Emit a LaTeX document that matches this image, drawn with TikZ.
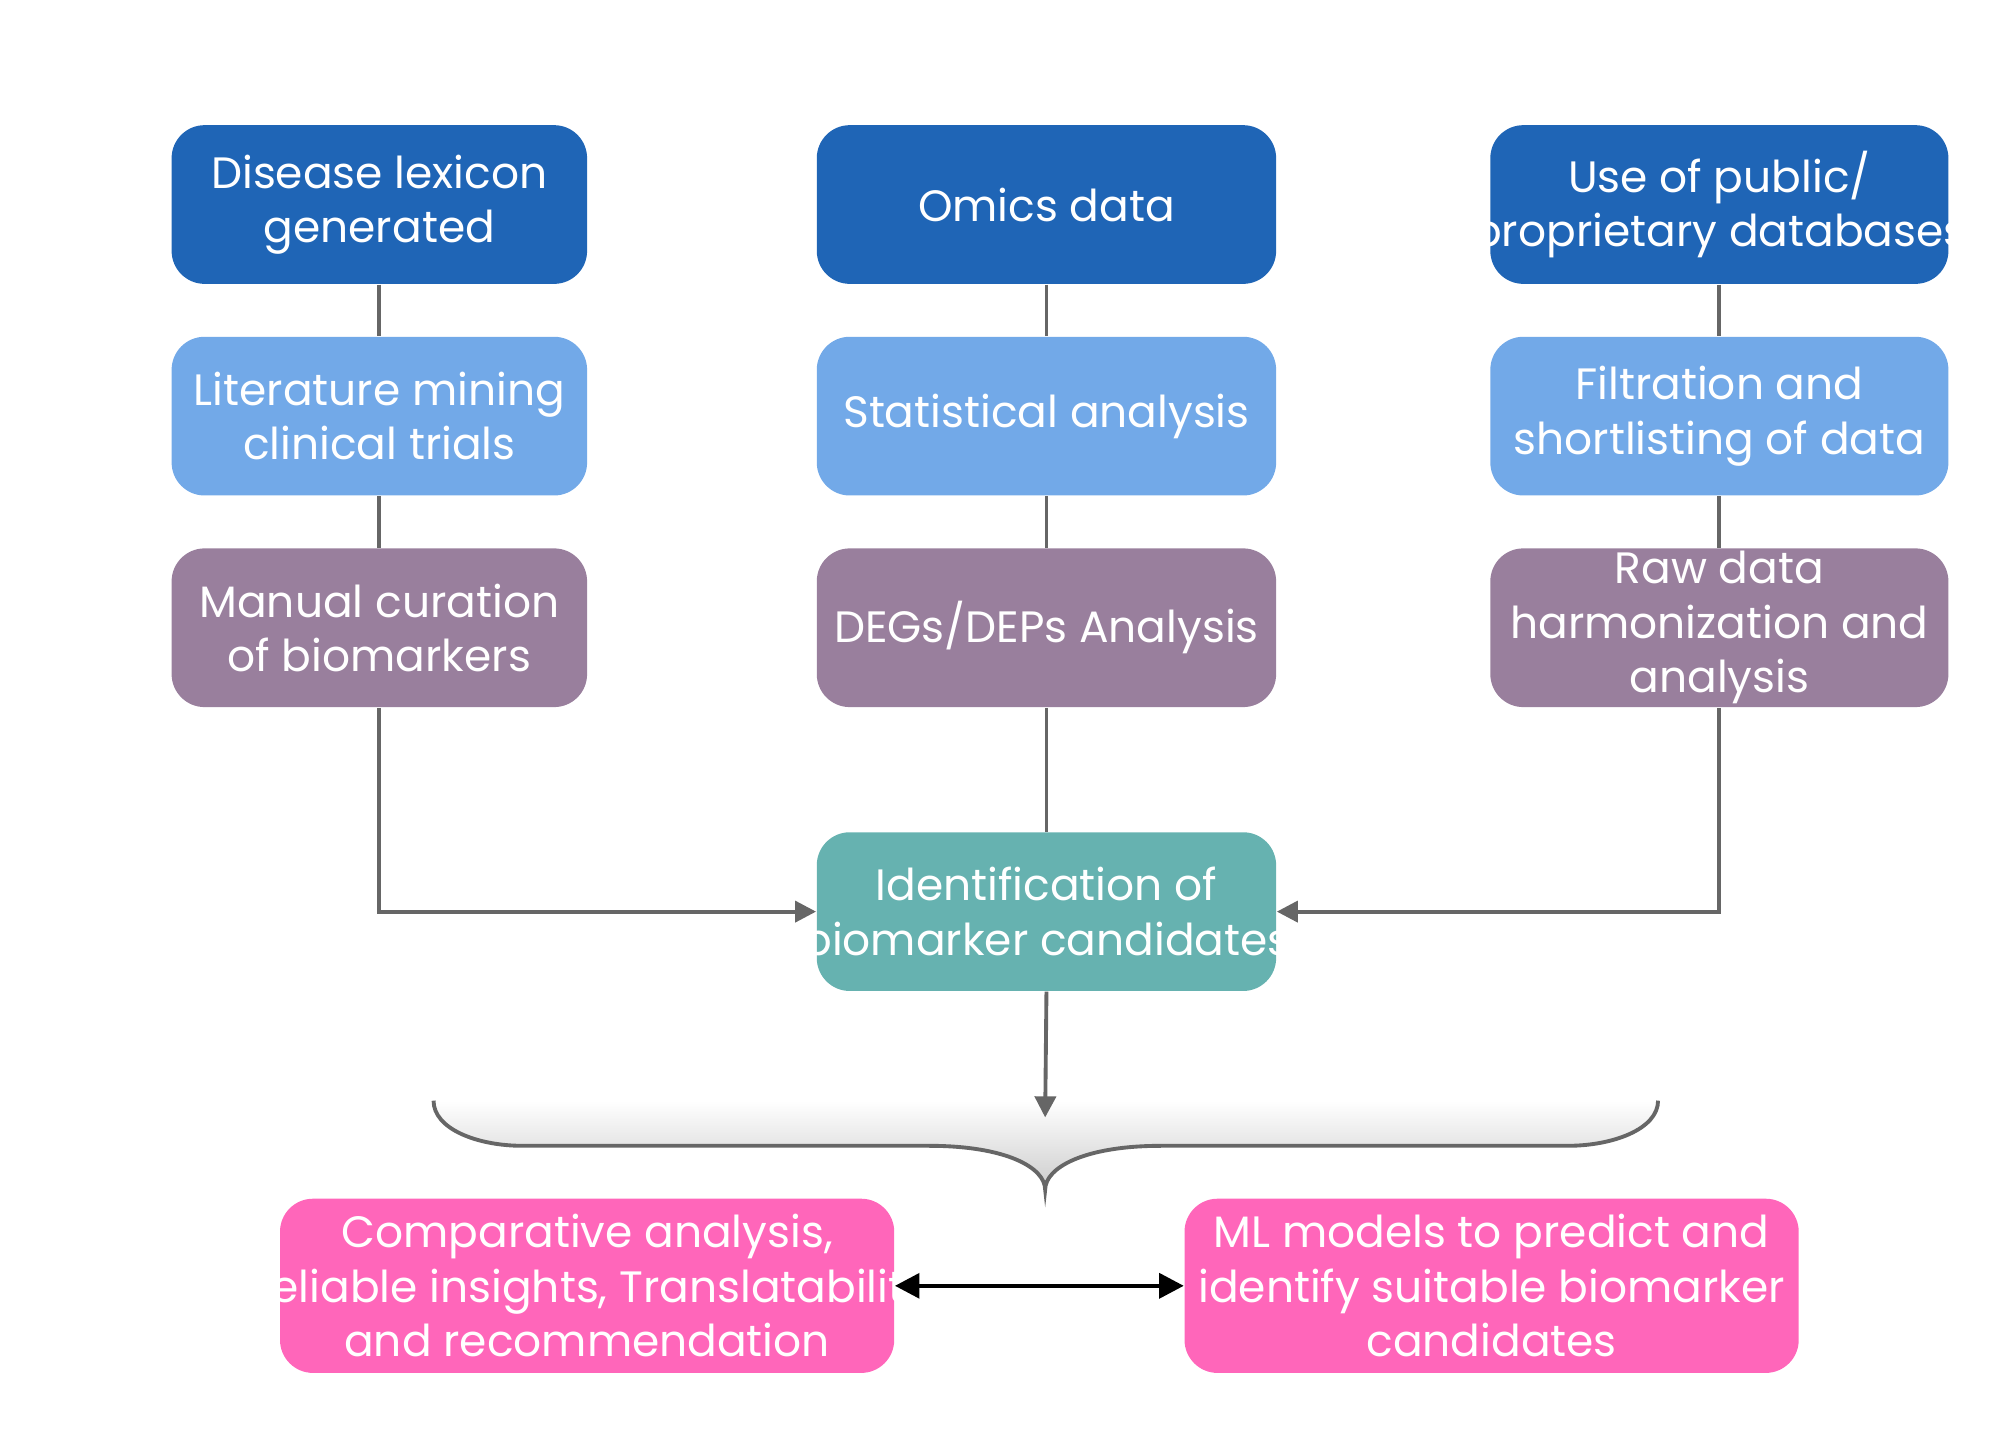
\documentclass[tikz,border=0pt]{standalone}
\usepackage{fontspec}
\setmainfont{Poppins}
\usetikzlibrary{arrows.meta}
\definecolor{dblue}{HTML}{1F65B6}
\definecolor{lblue}{HTML}{72A9E8}
\definecolor{purp}{HTML}{997F9D}
\definecolor{teal}{HTML}{66B2B0}
\definecolor{pink}{HTML}{FF66BA}
\definecolor{conn}{HTML}{666666}
\begin{document}
\begin{tikzpicture}[x=0.012903cm,y=-0.012903cm,
  box/.style={rounded corners=0.33cm,text=white,align=center,font=\fontsize{12.5}{15.5}\selectfont,inner sep=0pt},
  ln/.style={draw=conn,line width=1.1pt},
  arr/.style={ln,-{Triangle[length=6pt,width=6pt]}}]
\useasboundingbox (0,0) rectangle (1550,1113);
\newcommand\bx[6]{\node[box,fill=#6,minimum width={(#3-#2)*0.012903cm},minimum height={(#5-#4)*0.012903cm}] (#1) at ({(#2+#3)/2},{(#4+#5)/2}) {};}
\bx{a1}{133}{455}{97}{220}{dblue}
\bx{a2}{133}{455}{261}{384}{lblue}
\bx{a3}{133}{455}{425}{548}{purp}
\bx{b1}{633}{989}{97}{220}{dblue}
\bx{b2}{633}{989}{261}{384}{lblue}
\bx{b3}{633}{989}{425}{548}{purp}
\bx{c1}{1155}{1510}{97}{220}{dblue}
\bx{c2}{1155}{1510}{261}{384}{lblue}
\bx{c3}{1155}{1510}{425}{548}{purp}
\bx{t}{633}{989}{645}{768}{teal}
\bx{p1}{217}{693}{929}{1064}{pink}
\bx{p2}{918}{1394}{929}{1064}{pink}
\tikzset{lbl/.style={box,text=white}}
\node[lbl] at (a1) {Disease lexicon\\generated};
\node[lbl] at (a2) {Literature mining\\clinical trials};
\node[lbl] at (a3) {Manual curation\\of biomarkers};
\node[lbl] at (b1) {Omics data};
\node[lbl] at (b2) {Statistical analysis};
\node[lbl] at (b3) {DEGs/DEPs Analysis};
\node[lbl] at (c1) {Use of public/\\proprietary databases};
\node[lbl] at (c2) {Filtration and\\shortlisting of data};
\node[lbl] at (c3) {Raw data\\harmonization and\\analysis};
\node[lbl] at (t) {Identification of\\biomarker candidates};
\node[lbl] at (p1) {Comparative analysis,\\Reliable insights, Translatability\\and recommendation};
\node[lbl] at (p2) {ML models to predict and\\identify suitable biomarker\\candidates};
\draw[ln] (a1)--(a2); \draw[ln] (a2)--(a3);
\draw[ln] (b1)--(b2); \draw[ln] (b2)--(b3); \draw[ln] (b3)--(t);
\draw[ln] (c1)--(c2); \draw[ln] (c2)--(c3);
\draw[arr] (a3.south) |- (t.west);
\draw[arr] (c3.south) |- (t.east);
% brace
\shade[top color=white,bottom color=black!20]
  (336,853) .. controls (336,875) and (370,888) .. (405,888) -- (720,888)
  .. controls (780,888) and (810,905) .. (810,922)
  .. controls (810,905) and (840,888) .. (900,888) -- (1215,888)
  .. controls (1250,888) and (1285,875) .. (1285,853) -- cycle;
\draw[conn,line width=1.1pt]
  (336,853) .. controls (336,875) and (370,888) .. (405,888) -- (720,888)
  .. controls (780,888) and (810,905) .. (810,922)
  .. controls (810,905) and (840,888) .. (900,888) -- (1215,888)
  .. controls (1250,888) and (1285,875) .. (1285,853);
\coordinate (bt) at (810,866);
\draw[arr] (t.south) -- (bt);
\draw[black,line width=1.3pt,{Triangle[length=7pt,width=7pt]}-{Triangle[length=7pt,width=7pt]}] (p1.east) -- (p2.west);
\end{tikzpicture}
\end{document}
